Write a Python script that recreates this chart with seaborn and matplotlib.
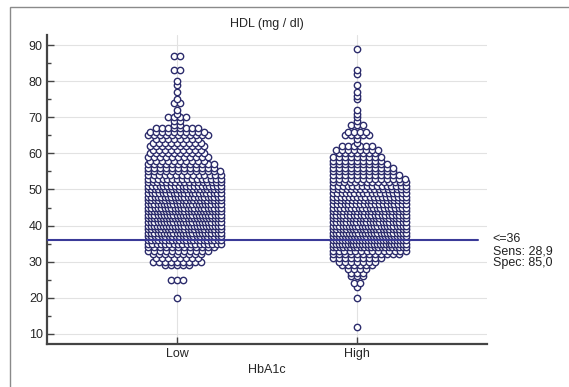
import numpy as np
import pandas as pd
import seaborn as sns
import matplotlib.pyplot as plt
from matplotlib.patches import Rectangle

# HDL values (mg/dl) and how many subjects sit on each value
groups = ['Low', 'High']

low_values = [87, 83, 80, 79, 77, 75, 74, 72, 71, 70, 69, 68, 67, 66, 65, 64, 63, 62, 61, 60,
              59, 58, 57, 56, 55, 54, 53, 52, 51, 50, 49, 48, 47, 46, 45, 44, 43, 42, 41, 40,
              39, 38, 37, 36, 35, 34, 33, 32, 31, 30, 29, 25, 20]
low_counts = [2, 2, 1, 1, 1, 1, 2, 1, 1, 4, 2, 2, 8, 10, 11, 8, 9, 10, 9, 10,
              11, 10, 12, 12, 13, 14, 16, 17, 20, 22, 21, 23, 22, 24, 23, 25, 24, 25, 24, 25,
              23, 24, 22, 22, 18, 12, 11, 9, 8, 9, 5, 3, 1]

high_values = [89, 83, 82, 79, 77, 76, 75, 72, 71, 70, 69, 68, 66, 65, 64, 63, 62, 61, 60,
               59, 58, 57, 56, 55, 54, 53, 52, 51, 50, 49, 48, 47, 46, 45, 44, 43, 42, 41, 40,
               39, 38, 37, 36, 35, 34, 33, 32, 31, 30, 29, 28, 27, 26, 24, 23, 20, 12]
high_counts = [1, 1, 1, 1, 1, 1, 1, 1, 1, 1, 1, 3, 4, 5, 1, 1, 6, 8, 7,
               9, 9, 10, 11, 11, 12, 13, 14, 16, 17, 18, 19, 20, 20, 21, 22, 22, 23, 23, 24,
               23, 24, 25, 26, 26, 22, 14, 12, 9, 7, 6, 4, 3, 3, 2, 1, 1, 1]

cutoff = 36
cutoff_text = '<=36\nSens: 28,9\nSpec: 85,0'

# dot row layout (in x data units; 1 unit ~ 180 px)
PX = 1 / 180
DOT = 6 * PX
MAX_W = 73 * PX


def layout(values, counts, center, name, left_cap):
    xs, ys = [], []
    for v, n in sorted(zip(values, counts)):
        width = min((n - 1) * DOT, MAX_W)
        left = -min(width / 2, left_cap)
        step = width / (n - 1) if n > 1 else 0
        for i in range(n):
            xs.append(center + left + i * step)
            ys.append(v)
    return pd.DataFrame({'pos': xs, 'hdl': ys, 'HbA1c': name})


df = pd.concat([
    layout(low_values, low_counts, 0, 'Low', 29 * PX),
    layout(high_values, high_counts, 1, 'High', 24 * PX),
], ignore_index=True)

sns.set_style('white')
plt.rcParams['font.family'] = ['Liberation Sans', 'DejaVu Sans']

fig = plt.figure(figsize=(5.69, 3.87), dpi=100)
ax = fig.add_axes([47 / 569, 1 - 344 / 387, 440 / 569, 309 / 387])

ax.grid(True, color='#e2e2e2', linewidth=0.8, zorder=0)
ax.set_axisbelow(True)

sns.scatterplot(data=df, x='pos', y='hdl', ax=ax, s=21, marker='o',
                facecolor='white', edgecolor='#2c2c6c', linewidth=1.0, zorder=3, legend=False)

ax.axhline(cutoff, xmin=0, xmax=0.98, color='#3a3a98', linewidth=1.5, zorder=4)
ax.text(1.013, 37.9, cutoff_text, transform=ax.get_yaxis_transform(), fontsize=9,
        va='top', ha='left', linespacing=1.0, color='#222222')

ax.set_xlim(-0.722, 1.722)
ax.set_ylim(7.2, 92.8)
ax.set_xticks([0, 1])
ax.set_xticklabels(groups)
ax.set_yticks(np.arange(10, 91, 10))
ax.set_yticks(np.arange(15, 90, 10), minor=True)
ax.grid(False, which='minor')
ax.tick_params(axis='both', which='major', direction='in', length=5, width=1,
               color='#444444', labelsize=9, pad=3, left=True, bottom=True)
ax.tick_params(axis='y', which='minor', direction='in', length=3, width=1,
               color='#444444', left=True)

ax.set_xlabel('HbA1c', fontsize=9, labelpad=3)
ax.set_ylabel('')
ax.set_title('HDL (mg / dl)', fontsize=9, pad=6)

for side in ['top', 'right']:
    ax.spines[side].set_visible(False)
for side in ['left', 'bottom']:
    ax.spines[side].set_color('#444444')
    ax.spines[side].set_linewidth(1.6)

# outer frame of the exported graph
fig.patches.append(Rectangle((10 / 569, -0.1), 1.2, 1.1 - 7 / 387, transform=fig.transFigure,
                             fill=False, edgecolor='#8a8a8a', linewidth=1.0))

fig.savefig('out.png', dpi=100)
